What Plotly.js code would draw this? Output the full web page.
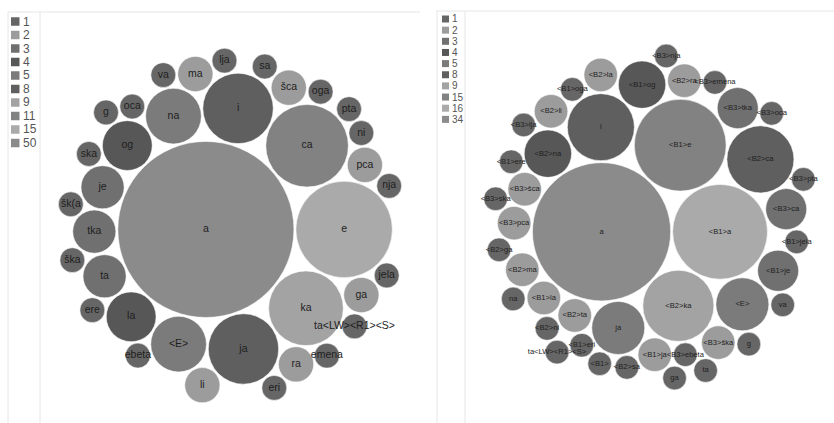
<!DOCTYPE html>
<html><head><meta charset="utf-8">
<script src="https://cdn.plot.ly/plotly-3.0.1.min.js"></script>
<style>html,body{margin:0;padding:0;background:#fff}#chart{width:834px;height:423px}</style>
</head><body><div id="chart"></div>
<script>
// ---------- data ----------
const leftLabels = ['a','e','ca','ka','i','ja','na','<E>','og','la','je','ta','tka',
  'ga','pca','ra','šca','ma','li',
  'ta<LW><R1><S>','emena','ebeta','jela','ni','nja','oca','oga','pta','sa','ska','lja','va','šk(a','ška','ere','eri','g'];
const leftValues = [50,15,11,9,8,8,5,5,4,4,3,3,3,
  2,2,2,2,2,2,
  1,1,1,1,1,1,1,1,1,1,1,1,1,1,1,1,1,1];
const leftSeries = [1,2,3,4,5,8,9,11,15,50];

const rightLabels = ['a','<B1>a','<B1>e','<B2>ka','i','<B2>ca','ja','<E>','<B2>na','<B1>og',
  '<B3>ca','<B3>tka','<B1>je',
  '<B2>ra','<B2>ta','<B3>šca','<B3>ška','<B1>ja','<B1>la','<B3>pca','<B2>ma','<B2>li','<B2>la',
  '<B3>emena','<B3>ebeta','<B1>jela','<B1>oga','<B1>eri','<B1>ere','<B3>pta','<B3>oca',
  '<B3>nja','<B3>lja','<B3>ska','<B2>ni','<B2>ga','<B2>sa','<B1>','va','na','g','ga','ta','ta<LW><R1><S>'];
const rightValues = [34,16,15,9,8,8,5,5,4,4,
  3,3,3,
  2,2,2,2,2,2,2,2,2,2,
  1,1,1,1,1,1,1,1,
  1,1,1,1,1,1,1,1,1,1,1,1,1];
const rightSeries = [1,2,3,4,5,8,9,15,16,34];

// ---------- style ----------
const seriesGrays = ['#666666','#9c9c9c','#707070','#575757','#7b7b7b','#5f5f5f','#a3a3a3','#828282','#aaaaaa','#8b8b8b'];
const W = 834, H = 423;

function esc(s){ return s.replace(/&/g,'&amp;').replace(/</g,'&lt;').replace(/>/g,'&gt;'); }

// greedy circle packing: each circle tangent to two placed ones, nearest to area-weighted centroid
function pack(radii, pad){
  const pos = [];
  for (let k = 0; k < radii.length; k++){
    const r = radii[k];
    if (k === 0){ pos.push([0,0]); continue; }
    if (k === 1){ pos.push([radii[0] + r + pad, 0]); continue; }
    let sx = 0, sy = 0, sw = 0;
    for (let m = 0; m < k; m++){ const w = radii[m]*radii[m]; sx += pos[m][0]*w; sy += pos[m][1]*w; sw += w; }
    const gx = sx/sw, gy = sy/sw;
    let best = null, bestD = Infinity;
    for (let i = 0; i < k; i++) for (let j = i+1; j < k; j++){
      const xi = pos[i][0], yi = pos[i][1], xj = pos[j][0], yj = pos[j][1];
      const a = radii[i] + r + pad, b = radii[j] + r + pad;
      const dx = xj - xi, dy = yj - yi, d = Math.hypot(dx, dy);
      if (d === 0 || d > a + b || d < Math.abs(a - b)) continue;
      const l = (a*a - b*b + d*d) / (2*d);
      const h = Math.sqrt(Math.max(0, a*a - l*l));
      const mx = xi + l*dx/d, my = yi + l*dy/d;
      for (const s of [1, -1]){
        const cx = mx - s*h*dy/d, cy = my + s*h*dx/d;
        let ok = true;
        for (let m = 0; m < k; m++){
          if (Math.hypot(cx - pos[m][0], cy - pos[m][1]) < radii[m] + r + pad - 1e-6){ ok = false; break; }
        }
        if (ok){ const dd = Math.hypot(cx - gx, cy - gy); if (dd < bestD){ bestD = dd; best = [cx, cy]; } }
      }
    }
    pos.push(best);
  }
  return pos;
}

function panel(labels, values, series, unitD, fontSize, xName, yName){
  const diam = values.map(v => unitD * Math.sqrt(v));
  const pos = pack(diam.map(d => d/2), 2);
  const colors = values.map(v => seriesGrays[series.indexOf(v)]);
  let x0 = Infinity, x1 = -Infinity, y0 = Infinity, y1 = -Infinity;
  pos.forEach((p, i) => { const r = diam[i]/2;
    x0 = Math.min(x0, p[0]-r); x1 = Math.max(x1, p[0]+r);
    y0 = Math.min(y0, p[1]-r); y1 = Math.max(y1, p[1]+r); });
  return {
    trace: {
      type: 'scatter', mode: 'markers+text', xaxis: xName, yaxis: yName,
      x: pos.map(p => p[0]), y: pos.map(p => p[1]),
      text: labels.map(esc), textposition: 'middle center',
      textfont: {family: 'Liberation Sans, Arial, sans-serif', size: fontSize, color: '#1e1e1e'},
      marker: {size: diam, sizemode: 'diameter', sizeref: 1, color: colors, opacity: 1,
               line: {width: 1, color: 'rgba(255,255,255,0.55)'}},
      hoverinfo: 'skip', showlegend: false, cliponaxis: true
    },
    cx: (x0 + x1)/2, cy: (y0 + y1)/2
  };
}

const L = panel(leftLabels, leftValues, leftSeries, 24.9, 10.5, 'x', 'y');
const R = panel(rightLabels, rightValues, rightSeries, 23.7, 7.6, 'x2', 'y2');

// plot areas (px)
const LA = {x0: 40, x1: 420, y0: 12, y1: 423};
const RA = {x0: 465, x1: 834, y0: 11, y1: 423};
function axes(A, c, dy){
  const w = A.x1 - A.x0, h = A.y1 - A.y0;
  return {
    x: {domain: [A.x0/W, A.x1/W], range: [c.cx - w/2, c.cx + w/2], visible: false, fixedrange: true},
    y: {domain: [1 - A.y1/H, 1 - A.y0/H], range: [c.cy - h/2 - dy, c.cy + h/2 - dy], visible: false, fixedrange: true}
  };
}
const la = axes(LA, L, -8), ra = axes(RA, R, 0);

const lineCol = '#e6e6e6';
function hl(x0, x1, y){ return {type:'line', xref:'paper', yref:'paper', x0:x0/W, x1:x1/W, y0:1-y/H, y1:1-y/H, line:{color:lineCol, width:1}, layer:'below'}; }
function vl(x, y0, y1){ return {type:'line', xref:'paper', yref:'paper', x0:x/W, x1:x/W, y0:1-y0/H, y1:1-y1/H, line:{color:lineCol, width:1}, layer:'below'}; }
const shapes = [hl(8,420,12), vl(8,12,423), vl(40,12,423), hl(436,834,11), vl(437,11,423), vl(465,11,423)];
const annotations = [];

function legend(series, sx, sq, ty, y0, dy, fs){
  series.forEach((s, i) => {
    const yc = y0 + i*dy;
    shapes.push({type:'rect', xref:'paper', yref:'paper', x0:sx/W, x1:(sx+sq)/W,
      y0:1-(yc+sq/2)/H, y1:1-(yc-sq/2)/H, fillcolor: seriesGrays[i], line:{width:0}});
    annotations.push({xref:'paper', yref:'paper', x: ty/W, y: 1-yc/H, xanchor:'left', yanchor:'middle',
      text: String(s), showarrow:false, font:{family:'Liberation Sans, Arial, sans-serif', size: fs, color:'#555'}});
  });
}
legend(leftSeries, 11, 8.5, 21, 21.5, 13.5, 12);
legend(rightSeries, 442, 7, 450, 19, 11.15, 10);

Plotly.newPlot('chart', [L.trace, R.trace], {
  width: W, height: H, autosize: false,
  margin: {l:0, r:0, t:0, b:0}, paper_bgcolor:'#fff', plot_bgcolor:'rgba(0,0,0,0)',
  xaxis: la.x, yaxis: la.y, xaxis2: ra.x, yaxis2: ra.y,
  shapes: shapes, annotations: annotations, showlegend: false
}, {staticPlot: true, displayModeBar: false});
</script></body></html>
